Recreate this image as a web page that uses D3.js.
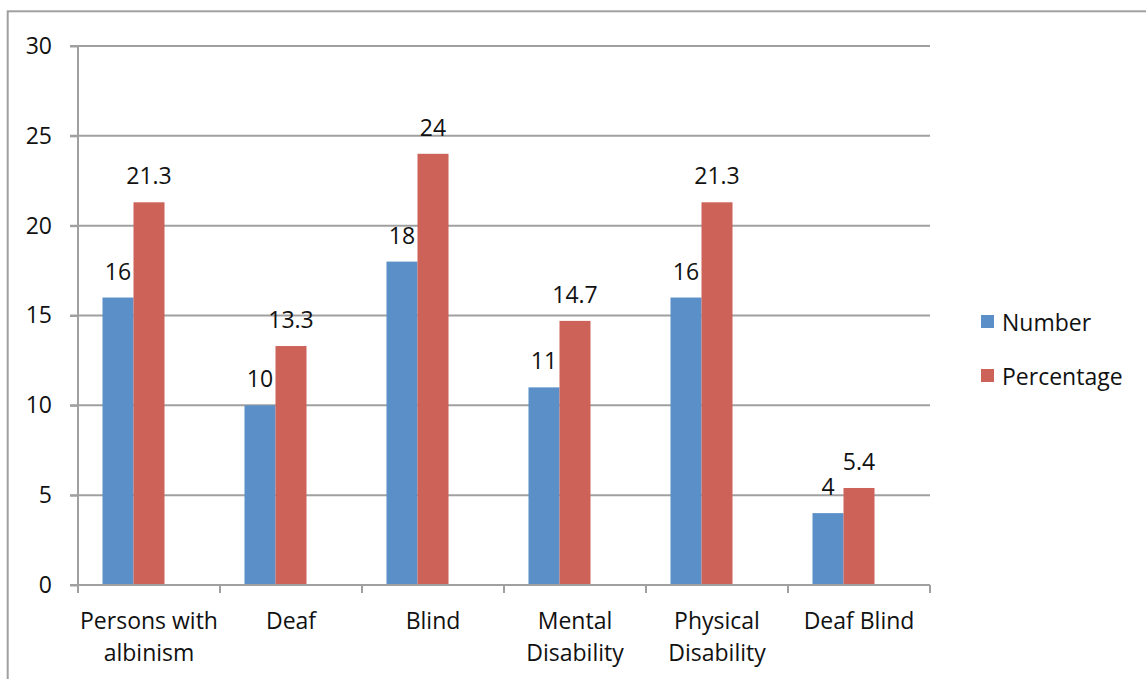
<!DOCTYPE html>
<html>
<head>
<meta charset="utf-8">
<script src="https://cdn.jsdelivr.net/npm/d3@7"></script>
<style>
  html, body { margin: 0; padding: 0; background: #fff; }
  svg { display: block; font-family: "Open Sans", "DejaVu Sans", sans-serif; }
</style>
</head>
<body>
<svg id="chart" width="1146" height="679"></svg>
<script>
// Disability categories and the two series plotted for each
const categories = ["Persons with albinism", "Deaf", "Blind", "Mental Disability", "Physical Disability", "Deaf Blind"];
const categoryLines = [["Persons with", "albinism"], ["Deaf"], ["Blind"], ["Mental", "Disability"], ["Physical", "Disability"], ["Deaf Blind"]];
const seriesNames = ["Number", "Percentage"];
const numberValues = [16, 10, 18, 11, 16, 4];
const percentageValues = [21.3, 13.3, 24, 14.7, 21.3, 5.4];
const yTickValues = [0, 5, 10, 15, 20, 25, 30];

const colors = { Number: "#5b8fc8", Percentage: "#cc6258" };
const gridColor = "#a0a0a0";
const fontSize = 23;

const svg = d3.select("#chart");
svg.append("rect").attr("width", 1146).attr("height", 679).attr("fill", "#fff");

// outer chart frame (runs off the right and bottom edges)
svg.append("rect")
  .attr("x", 7.7).attr("y", 11.3)
  .attr("width", 1300).attr("height", 800)
  .attr("fill", "none").attr("stroke", gridColor).attr("stroke-width", 2);

const plot = { left: 78, right: 930, top: 46, bottom: 585 };

const y = d3.scaleLinear().domain([0, 30]).range([plot.bottom, plot.top]);
const x0 = d3.scaleBand().domain(categories).range([plot.left, plot.right]).padding(0);
// three slots per category; the third is left empty
const x1 = d3.scaleBand().domain([...seriesNames, "_"]).range([0, x0.bandwidth()])
  .paddingInner(0).paddingOuter(0.79);

// horizontal gridlines
svg.append("g").selectAll("line")
  .data(yTickValues.filter(v => v > 0))
  .join("line")
  .attr("x1", plot.left - 8).attr("x2", plot.right)
  .attr("y1", d => y(d)).attr("y2", d => y(d))
  .attr("stroke", gridColor).attr("stroke-width", 2);

// y axis line and labels
const yAxis = d3.axisLeft(y).tickValues(yTickValues).tickSize(8).tickPadding(18).tickFormat(d3.format("d"));
const yg = svg.append("g").attr("transform", `translate(${plot.left},0)`).call(yAxis);
yg.select(".domain").attr("stroke", gridColor).attr("stroke-width", 2).attr("d", `M0,${plot.top}V${plot.bottom}`);
yg.selectAll(".tick line").attr("stroke", gridColor).attr("stroke-width", 2);
yg.selectAll(".tick text").attr("font-size", fontSize).attr("fill", "#111").attr("font-family", "Open Sans, sans-serif");

// bars
const rows = categories.map((c, i) => ({ category: c, Number: numberValues[i], Percentage: percentageValues[i] }));
const groups = svg.append("g").selectAll("g")
  .data(rows).join("g")
  .attr("transform", d => `translate(${x0(d.category)},0)`);

groups.selectAll("rect")
  .data(d => seriesNames.map(k => ({ key: k, value: d[k] })))
  .join("rect")
  .attr("x", d => x1(d.key))
  .attr("width", x1.bandwidth())
  .attr("y", d => y(d.value))
  .attr("height", d => y(0) - y(d.value))
  .attr("fill", d => colors[d.key]);

// value labels
groups.selectAll("text")
  .data(d => seriesNames.map(k => ({ key: k, value: d[k] })))
  .join("text")
  .attr("x", d => x1(d.key) + x1.bandwidth() / 2)
  .attr("y", d => y(d.value) - 18)
  .attr("text-anchor", "middle")
  .attr("font-size", fontSize)
  .attr("fill", "#111")
  .text(d => d.value);

// x axis baseline and category tick marks
svg.append("line")
  .attr("x1", plot.left - 8).attr("x2", plot.right)
  .attr("y1", plot.bottom).attr("y2", plot.bottom)
  .attr("stroke", gridColor).attr("stroke-width", 2);
const boundaries = categories.map(c => x0(c)).concat([plot.right]);
svg.append("g").selectAll("line")
  .data(boundaries).join("line")
  .attr("x1", d => d).attr("x2", d => d)
  .attr("y1", plot.bottom).attr("y2", plot.bottom + 8)
  .attr("stroke", gridColor).attr("stroke-width", 2);

// category labels
svg.append("g").selectAll("text")
  .data(categories).join("text")
  .attr("x", d => x0(d) + x0.bandwidth() / 2)
  .attr("y", 629)
  .attr("text-anchor", "middle")
  .attr("font-size", fontSize)
  .attr("fill", "#111")
  .selectAll("tspan")
  .data((d, i) => categoryLines[i])
  .join("tspan")
  .attr("x", function () { return d3.select(this.parentNode).attr("x"); })
  .attr("dy", (d, i) => i === 0 ? 0 : 32)
  .text(d => d);

// legend
const legend = svg.append("g").selectAll("g")
  .data(seriesNames).join("g")
  .attr("transform", (d, i) => `translate(981,${315 + i * 54})`);
legend.append("rect").attr("width", 13).attr("height", 13).attr("fill", d => colors[d]);
legend.append("text").attr("x", 21).attr("y", 16)
  .attr("font-size", fontSize).attr("fill", "#111").text(d => d);
</script>
</body>
</html>
